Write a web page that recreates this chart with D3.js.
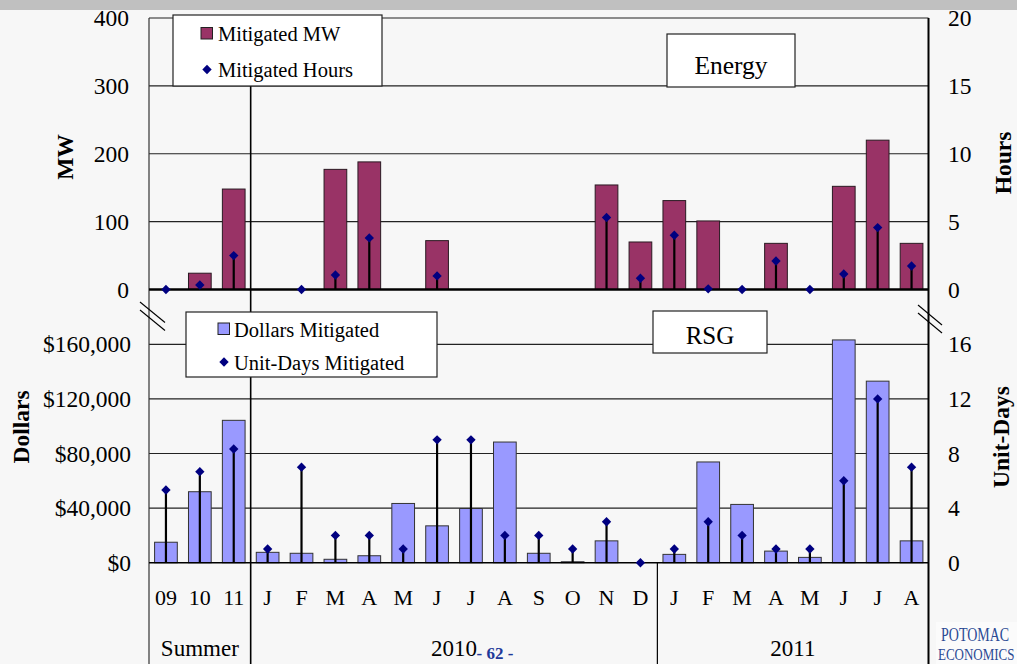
<!DOCTYPE html>
<html><head><meta charset="utf-8">
<script src="https://cdn.jsdelivr.net/npm/d3@7"></script>
<style>
html,body{margin:0;padding:0;background:#f7f7f7;}
svg{display:block;}
text{font-family:"Liberation Serif","Times New Roman",serif;}
</style></head>
<body>
<svg id="chart" width="1017" height="664"></svg>
<script>
// ---------- DATA ----------
const categories = ["09","10","11","J","F","M","A","M","J","J","A","S","O","N","D","J","F","M","A","M","J","J","A"];
const groups = [
  {label:"Summer", start:0, end:3},
  {label:"2010", start:3, end:15},
  {label:"2011", start:15, end:23}
];
// Energy panel
const mitigatedMW    = [0,24,148,0,0,177,188,0,72,0,0,0,0,154,70,131,101,0,68,0,152,220,68];
const mitigatedHours = [0,0.33,2.5,null,0,1.07,3.8,null,1.0,null,null,null,null,5.3,0.83,4.0,0.05,0,2.1,0,1.14,4.56,1.73];
// RSG panel
const dollarsMitigated   = [15000,52000,104300,7600,6900,2500,5100,43400,27000,39700,88400,6900,700,16000,0,6100,73800,42700,8500,3900,163200,133000,16000];
const unitDaysMitigated  = [5.33,6.67,8.33,1,7,2,2,1,9,9,2,2,1,3,0,1,3,2,1,1,6,12,7];
// ticks
const mwTicks = [0,100,200,300,400];
const hourTicks = [0,5,10,15,20];
const dollarTicks = [0,40000,80000,120000,160000];
const unitDayTicks = [0,4,8,12,16];

// ---------- LAYOUT ----------
const svg = d3.select("#chart");
const L = 149, R = 928.5;
const topY0 = 289.5, topY1 = 18;
const botY0 = 562.7, botY1 = 289.7;
const bottomEdge = 664;

svg.append("rect").attr("x",0).attr("y",0).attr("width",1017).attr("height",664).attr("fill","#f7f7f7");
svg.append("rect").attr("x",0).attr("y",0).attr("width",1017).attr("height",10).attr("fill","#c0c0c0");

const x = d3.scaleBand().domain(d3.range(categories.length)).range([L,R]).paddingInner(0.33).paddingOuter(0.165);
const yMW = d3.scaleLinear().domain([0,400]).range([topY0,topY1]);
const yH  = d3.scaleLinear().domain([0,20]).range([topY0,topY1]);
const yD  = d3.scaleLinear().domain([0,200000]).range([botY0,botY1]);
const yU  = d3.scaleLinear().domain([0,20]).range([botY0,botY1]);
const cx = i => x(i) + x.bandwidth()/2;

// gridlines
const grid = svg.append("g");
mwTicks.filter(d=>d>0).forEach(d=>grid.append("line").attr("x1",L).attr("x2",R).attr("y1",yMW(d)).attr("y2",yMW(d)).attr("stroke","#222").attr("stroke-width",1.2));
dollarTicks.filter(d=>d>0).forEach(d=>grid.append("line").attr("x1",L).attr("x2",R).attr("y1",yD(d)).attr("y2",yD(d)).attr("stroke","#222").attr("stroke-width",1.2));

// vertical frame lines
const step = x.step();
const bx = k => L + k*step;
svg.append("line").attr("x1",L).attr("x2",L).attr("y1",topY1).attr("y2",bottomEdge).attr("stroke","#333").attr("stroke-width",1.2);
svg.append("line").attr("x1",bx(3)).attr("x2",bx(3)).attr("y1",topY1).attr("y2",bottomEdge).attr("stroke","#000").attr("stroke-width",1.6);
svg.append("line").attr("x1",bx(15)).attr("x2",bx(15)).attr("y1",botY0).attr("y2",bottomEdge).attr("stroke","#000").attr("stroke-width",1.2);

// ---------- TOP PANEL ----------
const gTop = svg.append("g");
gTop.selectAll("rect.mw").data(mitigatedMW.map((v,i)=>({v,i})).filter(d=>d.v>0)).join("rect")
  .attr("x",d=>x(d.i)).attr("width",x.bandwidth())
  .attr("y",d=>yMW(d.v)).attr("height",d=>yMW(0)-yMW(d.v))
  .attr("fill","#993366").attr("stroke","#2a1a22").attr("stroke-width",1);
gTop.selectAll("line.stem").data(mitigatedHours.map((v,i)=>({v,i})).filter(d=>d.v!==null && d.v>0)).join("line")
  .attr("x1",d=>cx(d.i)).attr("x2",d=>cx(d.i)).attr("y1",yH(0)).attr("y2",d=>yH(d.v))
  .attr("stroke","#000").attr("stroke-width",2.2);
svg.append("line").attr("x1",L).attr("x2",R).attr("y1",topY0).attr("y2",topY0).attr("stroke","#000").attr("stroke-width",2.4);
const diamond = d3.symbol().type(d3.symbolDiamond2).size(56);
const gTopPts = svg.append("g");
gTopPts.selectAll("path.h").data(mitigatedHours.map((v,i)=>({v,i})).filter(d=>d.v!==null)).join("path")
  .attr("d",diamond).attr("transform",d=>`translate(${cx(d.i)},${yH(d.v)})`).attr("fill","#000080");

// ---------- BOTTOM PANEL ----------
const gBot = svg.append("g");
gBot.selectAll("rect.d").data(dollarsMitigated.map((v,i)=>({v,i})).filter(d=>d.v>0)).join("rect")
  .attr("x",d=>x(d.i)).attr("width",x.bandwidth())
  .attr("y",d=>yD(d.v)).attr("height",d=>yD(0)-yD(d.v))
  .attr("fill","#9999ff").attr("stroke","#333").attr("stroke-width",1);
svg.append("line").attr("x1",L).attr("x2",R).attr("y1",botY0).attr("y2",botY0).attr("stroke","#000").attr("stroke-width",1.6);
const gBot2 = svg.append("g");
gBot2.selectAll("line.stem").data(unitDaysMitigated.map((v,i)=>({v,i})).filter(d=>d.v>0)).join("line")
  .attr("x1",d=>cx(d.i)).attr("x2",d=>cx(d.i)).attr("y1",yU(0)).attr("y2",d=>yU(d.v))
  .attr("stroke","#000").attr("stroke-width",2.2);
gBot2.selectAll("path.u").data(unitDaysMitigated.map((v,i)=>({v,i}))).join("path")
  .attr("d",diamond).attr("transform",d=>`translate(${cx(d.i)},${yU(d.v)})`).attr("fill","#000080");

// right axis line
svg.append("line").attr("x1",R).attr("x2",R).attr("y1",topY1).attr("y2",bottomEdge).attr("stroke","#000").attr("stroke-width",2);

// break marks
[[0,0],[0,8]].forEach(([dx,dy])=>{
  svg.append("line").attr("x1",140).attr("y1",302+dy).attr("x2",165).attr("y2",322.5+dy).attr("stroke","#000").attr("stroke-width",1.1);
  svg.append("line").attr("x1",918).attr("y1",305+dy).attr("x2",942).attr("y2",325+dy).attr("stroke","#000").attr("stroke-width",1.1);
});

// ---------- AXES ----------
const tickFont = "23.5px";
function styleAxis(g){ g.select(".domain").remove(); g.selectAll("text").attr("font-family","Liberation Serif").attr("font-size",tickFont).attr("fill","#000"); }
svg.append("g").attr("transform",`translate(${L},0)`).call(d3.axisLeft(yMW).tickValues(mwTicks).tickSize(0).tickPadding(20)).call(styleAxis);
svg.append("g").attr("transform",`translate(${R},0)`).call(d3.axisRight(yH).tickValues(hourTicks).tickSize(0).tickPadding(19.5)).call(styleAxis);
svg.append("g").attr("transform",`translate(${L},0)`).call(d3.axisLeft(yD).tickValues(dollarTicks).tickSize(0).tickPadding(18).tickFormat(d=>"$"+d3.format(",")(d))).call(styleAxis);
svg.append("g").attr("transform",`translate(${R},0)`).call(d3.axisRight(yU).tickValues(unitDayTicks).tickSize(0).tickPadding(19.5)).call(styleAxis);

const xa = svg.append("g").attr("transform",`translate(0,${botY0})`).call(d3.axisBottom(x).tickSize(0).tickPadding(27).tickFormat(i=>categories[i]));
xa.select(".domain").remove();
xa.selectAll("text").attr("font-family","Liberation Serif").attr("font-size","22px").attr("fill","#000");

// group labels
svg.selectAll("text.grp").data(groups).join("text")
  .attr("x",d=>(bx(d.start)+bx(d.end))/2).attr("y",656).attr("text-anchor","middle")
  .attr("font-size","23px").attr("fill","#000").text(d=>d.label);

// axis titles
function vtitle(t,xx,yy){
  svg.append("text").attr("transform",`translate(${xx},${yy}) rotate(-90)`).attr("text-anchor","middle")
    .attr("dominant-baseline","central").attr("font-weight","bold").attr("font-size","23.5px").attr("fill","#000").text(t);
}
vtitle("MW",65,157);
vtitle("Hours",1003,163);
vtitle("Dollars",21,427);
vtitle("Unit-Days",1001,437);

// ---------- LEGENDS / LABEL BOXES ----------
function box(x0,y0,w,h){ svg.append("rect").attr("x",x0).attr("y",y0).attr("width",w).attr("height",h).attr("fill","#fff").attr("stroke","#222").attr("stroke-width",1.2); }
box(173,15,209,71);
svg.append("rect").attr("x",201).attr("y",27.5).attr("width",11.5).attr("height",11.5).attr("fill","#993366").attr("stroke","#222").attr("stroke-width",1);
svg.append("text").attr("x",218).attr("y",41).attr("font-size","20.5px").attr("fill","#000").text("Mitigated MW");
svg.append("path").attr("d",diamond).attr("transform","translate(207,69.5)").attr("fill","#000080");
svg.append("text").attr("x",218).attr("y",77).attr("font-size","20.5px").attr("fill","#000").text("Mitigated Hours");

box(667,34,128,53);
svg.append("text").attr("x",731).attr("y",74).attr("text-anchor","middle").attr("font-size","25.5px").attr("fill","#000").text("Energy");

box(186,312,251,65);
svg.append("rect").attr("x",218).attr("y",323).attr("width",11.5).attr("height",11.5).attr("fill","#9999ff").attr("stroke","#222").attr("stroke-width",1);
svg.append("text").attr("x",234).attr("y",337).attr("font-size","20.5px").attr("fill","#000").text("Dollars Mitigated");
svg.append("path").attr("d",diamond).attr("transform","translate(224,362)").attr("fill","#000080");
svg.append("text").attr("x",234).attr("y",370).attr("font-size","20.5px").attr("fill","#000").text("Unit-Days Mitigated");

box(653,311,114,42);
svg.append("text").attr("x",710).attr("y",344).attr("text-anchor","middle").attr("font-size","25px").attr("fill","#000").text("RSG");

// page number
svg.append("text").attr("x",495).attr("y",659).attr("text-anchor","middle").attr("font-weight","bold").attr("font-size","17px").attr("fill","#1f3a9a").text("- 62 -");

// logo
svg.append("rect").attr("x",936).attr("y",622).attr("width",81).attr("height",42).attr("fill","#fbfbfb");
svg.append("text").attr("transform","translate(941,641) scale(1,1.35)").attr("font-size","14px").attr("fill","#2b4a94").text("POTOMAC");
svg.append("text").attr("transform","translate(938,659.5) scale(1,1.3)").attr("font-size","13px").attr("fill","#2b4a94").text("ECONOMICS");
</script>
</body></html>
